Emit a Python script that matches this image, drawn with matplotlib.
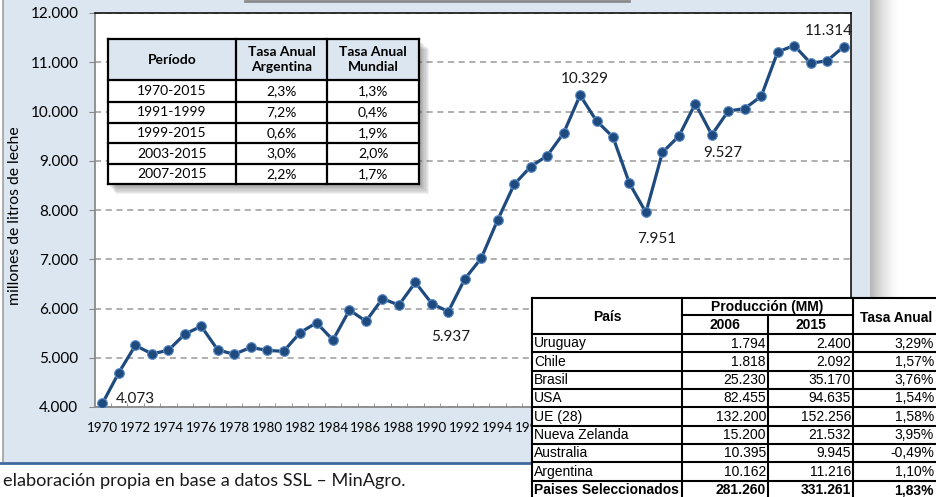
import matplotlib.pyplot as plt
from matplotlib.patches import Rectangle
from matplotlib.lines import Line2D
from matplotlib.ticker import FuncFormatter

# datos
years = list(range(1970, 2016))
produccion = [4073, 4700, 5250, 5080, 5150, 5480, 5640, 5160, 5070, 5210,
              5150, 5130, 5510, 5710, 5360, 5970, 5740, 6200, 6070, 6530,
              6100, 5937, 6600, 7020, 7800, 8520, 8880, 9100, 9560, 10329,
              9810, 9480, 8540, 7951, 9170, 9500, 10160, 9527, 10010, 10060,
              10310, 11210, 11340, 10980, 11030, 11314]
label_years = [1970, 1991, 1999, 2003, 2007, 2015]

periodos = ["1970-2015", "1991-1999", "1999-2015", "2003-2015", "2007-2015"]
tasa_arg = ["2,3%", "7,2%", "0,6%", "3,0%", "2,2%"]
tasa_mund = ["1,3%", "0,4%", "1,9%", "2,0%", "1,7%"]

paises = ["Uruguay", "Chile", "Brasil", "USA", "UE (28)", "Nueva Zelanda",
          "Australia", "Argentina", "Paises Seleccionados"]
prod_2006 = ["1.794", "1.818", "25.230", "82.455", "132.200", "15.200",
             "10.395", "10.162", "281.260"]
prod_2015 = ["2.400", "2.092", "35.170", "94.635", "152.256", "21.532",
             "9.945", "11.216", "331.261"]
tasa_anual = ["3,29%", "1,57%", "3,76%", "1,54%", "1,58%", "3,95%",
              "-0,49%", "1,10%", "1,83%"]

W, H = 936, 497
FONT = "Lato"
ARIAL = "Liberation Sans"
BLUE_BG = "#dce6f1"

fig = plt.figure(figsize=(W / 100, H / 100), dpi=100)


def fx(x):
    return x / W


def fy(y):
    return 1 - y / H


def rect(x0, y0, x1, y1, **kw):
    fig.patches.append(Rectangle((fx(x0), fy(y1)), fx(x1) - fx(x0), fy(y0) - fy(y1),
                                 transform=fig.transFigure, figure=fig, **kw))


def line(x0, y0, x1, y1, **kw):
    fig.lines.append(Line2D([fx(x0), fx(x1)], [fy(y0), fy(y1)],
                            transform=fig.transFigure, figure=fig, **kw))


def txt(x, y, s, **kw):
    fig.text(fx(x), fy(y), s, **kw)


# panel de fondo
rect(3, -5, 870, 463, facecolor=BLUE_BG, edgecolor="none", zorder=-10)
line(3, -5, 3, 463, color="#a0a0a0", lw=1.2, zorder=-9)
line(0, 463, 870, 463, color="#3f6aa0", lw=2, zorder=-9)
for i in range(30):
    a = 0.45 * (1 - i / 30) ** 1.6
    rect(870 + i, -5, 871 + i, 463, facecolor="#606060", alpha=a, edgecolor="none", zorder=-9)
line(245, 0.5, 629, 0.5, color="#8a8a8a", lw=2, zorder=-9)

# grafico
ax = fig.add_axes([fx(95), fy(407), fx(851) - fx(95), fy(13) - fy(407)])
ax.set_facecolor("white")
ax.plot(years, produccion, color="#1f4a7e", lw=2.3, marker="o", markersize=7,
        markerfacecolor="#1f4a7e", markeredgecolor="#5b8cc8", markeredgewidth=0.8,
        zorder=3)
ax.set_xlim(1969.55, 2015.45)
ax.set_ylim(4000, 12000)
ax.set_yticks(range(4000, 12001, 1000))
ax.yaxis.set_major_formatter(FuncFormatter(lambda v, p: f"{int(v):,}".replace(",", ".")))
# las etiquetas tapadas por la tabla de paises no se dibujan
ax.set_xticks(years[::2])
ax.set_xticklabels([str(y) if y <= 1996 else "" for y in years[::2]])
ax.set_xticks([y + 0.5 for y in years[:-1]], minor=True)
ax.grid(axis="y", color="#9a9a9a", lw=1.1, linestyle=(0, (4, 3)))
ax.set_axisbelow(True)
ax.tick_params(axis="x", which="major", length=0, pad=11, labelsize=9.6)
ax.tick_params(axis="x", which="minor", length=3, direction="in", color="#888888")
ax.tick_params(axis="y", length=4, color="#888888", labelsize=11, pad=8)
for lab in ax.get_xticklabels() + ax.get_yticklabels():
    lab.set_fontfamily(FONT)
for s in ["top", "right"]:
    ax.spines[s].set_color("black")
    ax.spines[s].set_linewidth(1.1)
for s in ["left", "bottom"]:
    ax.spines[s].set_color("#8a8a8a")
    ax.spines[s].set_linewidth(1.3)
ax.set_ylabel("millones de litros de leche", fontfamily=FONT, fontsize=11.3)
ax.yaxis.set_label_coords(-0.096, 0.485)

offsets = {1970: (9.4, 3.4, "left"), 1991: (1.4, -18, "center"),
           1999: (3.5, 12, "center"), 2003: (7.6, -19, "center"),
           2007: (7.6, -13, "center"), 2015: (-10.8, 11.5, "center")}
for yr in label_years:
    v = produccion[years.index(yr)]
    dx, dy, ha = offsets[yr]
    ax.annotate(f"{v:,}".replace(",", "."), (yr, v), xytext=(dx, dy),
                textcoords="offset points", ha=ha, va="center",
                fontfamily=FONT, fontsize=11, color="#1a1a1a", zorder=4)

# tabla 1 (tasas)
cols1 = [108, 236, 327, 419]
rows1 = [39, 80, 101.7, 123.3, 143.3, 164, 184]
for i in range(1, 9):
    rect(108 + i, 39 + i * 1.3, 419 + i * 1.3, 184 + i * 1.3, facecolor="#404040",
         alpha=0.07, edgecolor="none", zorder=4)
rect(108, 39, 419, 80, facecolor=BLUE_BG, edgecolor="none", zorder=5)
rect(108, 80, 419, 184, facecolor="white", edgecolor="none", zorder=5)
for c in cols1:
    line(c, 39, c, 184, color="black", lw=1.6, zorder=6)
for r in rows1:
    line(108, r, 419, r, color="black", lw=1.6, zorder=6)
heads = ["Período", "Tasa Anual\nArgentina", "Tasa Anual\nMundial"]
for j, h in enumerate(heads):
    txt((cols1[j] + cols1[j + 1]) / 2, 59.5, h, ha="center", va="center",
        fontfamily=FONT, fontsize=10, fontweight="bold", linespacing=1.3, zorder=7)
for i, row in enumerate(zip(periodos, tasa_arg, tasa_mund)):
    yc = (rows1[i + 1] + rows1[i + 2]) / 2
    for j, s in enumerate(row):
        txt((cols1[j] + cols1[j + 1]) / 2, yc, s, ha="center", va="center",
            fontfamily=FONT, fontsize=10, zorder=7)

# tabla 2 (paises)
cols2 = [532, 682, 768, 853, 940]
rows2 = [298, 334] + [334 + 18.33 * (i + 1) for i in range(9)]
rect(532, 298, 940, 500, facecolor="white", edgecolor="none", zorder=5)
for c in [532, 682, 853]:
    line(c, 298, c, 500, color="black", lw=1.5, zorder=6)
line(768, 315, 768, 500, color="black", lw=1.5, zorder=6)
line(532, 298, 940, 298, color="black", lw=1.5, zorder=6)
line(682, 315, 853, 315, color="black", lw=1.5, zorder=6)
for r in rows2[1:]:
    line(532, r, 940, r, color="black", lw=1.5, zorder=6)
tkw = dict(fontfamily=ARIAL, fontsize=10, va="center", zorder=7)
txt(607, 317, "País", ha="center", fontweight="bold", **tkw)
txt(767.5, 306.5, "Producción (MM)", ha="center", fontweight="bold", **tkw)
txt(725, 325, "2006", ha="center", fontweight="bold", **tkw)
txt(810.5, 325, "2015", ha="center", fontweight="bold", **tkw)
txt(896, 318, "Tasa Anual", ha="center", fontweight="bold", **tkw)
for i in range(len(paises)):
    yc = rows2[1 + i] + 9.5
    fw = "bold" if i == len(paises) - 1 else "normal"
    txt(534, yc, paises[i], ha="left", fontweight=fw, **tkw)
    txt(766, yc, prod_2006[i], ha="right", fontweight=fw, **tkw)
    txt(851, yc, prod_2015[i], ha="right", fontweight=fw, **tkw)
    txt(934, yc, tasa_anual[i], ha="right", fontweight=fw, **tkw)

# fuente
txt(3, 481, "elaboración propia en base a datos SSL – MinAgro.", ha="left", va="center",
    fontfamily=FONT, fontsize=13.1, color="#1a1a1a")

fig.savefig("out.png", dpi=100)
